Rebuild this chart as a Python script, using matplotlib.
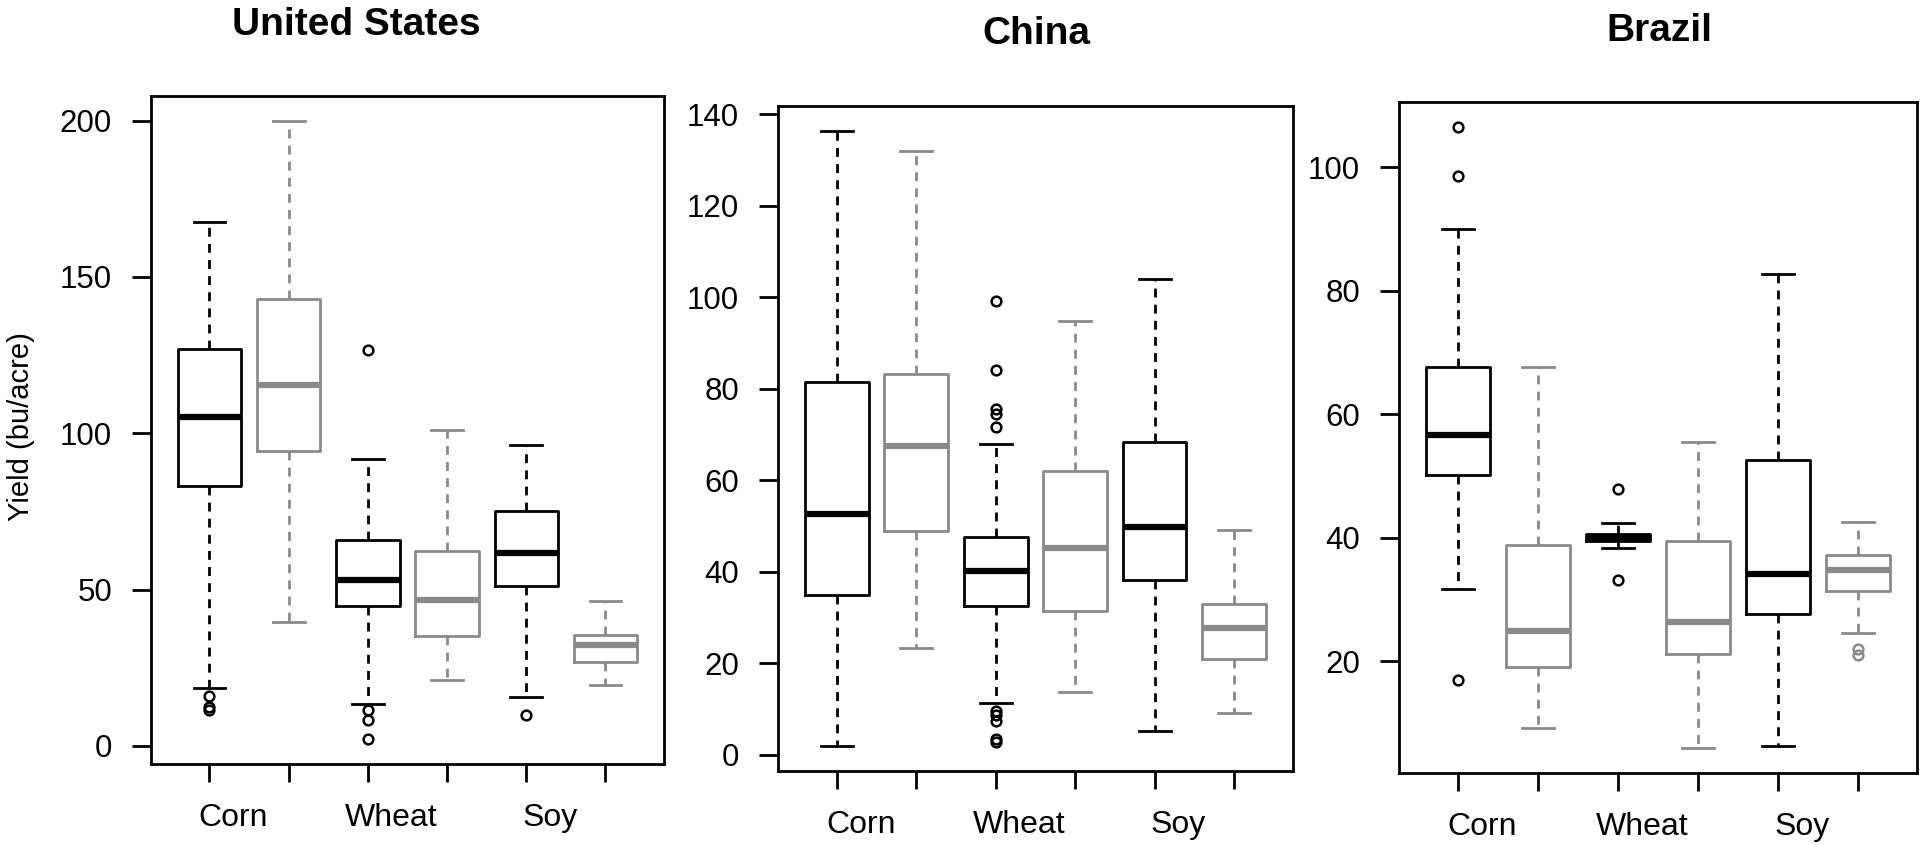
import numpy as np
import matplotlib
matplotlib.use("Agg")
import matplotlib.pyplot as plt

plt.rcParams['font.family'] = ['Liberation Sans', 'DejaVu Sans']

crops = ["Corn", "Wheat", "Soy"]
# box order: corn (black), corn (gray), wheat (black), wheat (gray), soy (black), soy (gray)

# United States
us_low = [18.4, 39.5, 13.3, 21.0, 15.7, 19.5]
us_q1 = [83.1, 94.3, 44.7, 35.2, 51.2, 26.7]
us_med = [105.2, 115.3, 52.9, 46.6, 61.6, 32.2]
us_q3 = [126.9, 143.1, 66.0, 62.4, 75.0, 35.3]
us_high = [167.6, 200.0, 91.7, 101.2, 96.2, 46.2]
us_fliers = [[16.0, 12.4, 11.3], [], [126.7, 11.4, 8.4, 2.1], [], [9.8], []]

# China
cn_low = [1.8, 23.3, 11.2, 13.6, 5.1, 9.0]
cn_q1 = [34.8, 48.9, 32.4, 31.4, 38.1, 21.0]
cn_med = [52.6, 67.4, 40.1, 45.2, 49.7, 27.6]
cn_q3 = [81.4, 83.3, 47.6, 62.0, 68.3, 33.0]
cn_high = [136.4, 132.0, 67.9, 94.8, 104.0, 49.2]
cn_fliers = [[], [], [99.2, 84.1, 75.6, 74.4, 71.7, 9.5, 8.6, 7.4, 3.4, 2.7],
             [], [], []]

# Brazil
br_low = [31.7, 9.2, 38.3, 5.9, 6.2, 24.5]
br_q1 = [50.1, 19.0, 39.4, 21.1, 27.6, 31.3]
br_med = [56.6, 24.9, 40.0, 26.4, 34.1, 34.8]
br_q3 = [67.6, 38.8, 40.5, 39.5, 52.5, 37.1]
br_high = [89.9, 67.6, 42.3, 55.4, 82.7, 42.5]
br_fliers = [[106.5, 98.5, 16.9], [], [47.9, 33.1], [], [], [22.0, 21.0]]

us_ticks = [0, 50, 100, 150, 200]
cn_ticks = [0, 20, 40, 60, 80, 100, 120, 140]
br_ticks = [20, 40, 60, 80, 100]

GRAY = '#8a8a8a'
colors = ['black', GRAY] * 3

panels = [
    ("United States", [0.0786, 0.0948, 0.2672, 0.7915], (356, 25),
     us_low, us_q1, us_med, us_q3, us_high, us_fliers, us_ticks),
    ("China", [0.4052, 0.0865, 0.2682, 0.7879], (1036, 34),
     cn_low, cn_q1, cn_med, cn_q3, cn_high, cn_fliers, cn_ticks),
    ("Brazil", [0.7286, 0.0841, 0.2698, 0.7950], (1659, 31),
     br_low, br_q1, br_med, br_q3, br_high, br_fliers, br_ticks),
]

fig = plt.figure(figsize=(19.2, 8.44), dpi=100)

for title, rect, tpos, lo, q1, med, q3, hi, fl, yticks in panels:
    ax = fig.add_axes(rect)
    stats = []
    for i in range(6):
        stats.append(dict(whislo=lo[i], q1=q1[i], med=med[i], q3=q3[i],
                          whishi=hi[i], fliers=fl[i]))
    pos = np.arange(1, 7)
    art = ax.bxp(stats, positions=pos, widths=0.8, capwidths=0.4,
                 boxprops=dict(linewidth=2.0),
                 whiskerprops=dict(linewidth=2.0, linestyle=(0, (3.2, 2.6))),
                 capprops=dict(linewidth=2.0),
                 medianprops=dict(linewidth=4.5, solid_capstyle='butt'),
                 flierprops=dict(marker='o', markersize=7, markerfacecolor='none',
                                 markeredgewidth=1.8))
    for i, c in enumerate(colors):
        art['boxes'][i].set_color(c)
        art['medians'][i].set_color(c)
        art['fliers'][i].set_markeredgecolor(c)
        for k in (2 * i, 2 * i + 1):
            art['whiskers'][k].set_color(c)
            art['caps'][k].set_color(c)

    # R-style axis limits: 4% padding around the data range
    allv = lo + hi + [v for f in fl for v in f]
    vmin, vmax = min(allv), max(allv)
    pad = 0.04 * (vmax - vmin)
    ax.set_ylim(vmin - pad, vmax + pad)
    ax.set_xlim(0.5 - 0.24, 6.5 + 0.24)

    ax.set_yticks(yticks)
    ax.set_yticklabels([str(t) for t in yticks])
    ax.set_xticks(pos)
    ax.set_xticklabels([''] * 6)
    ax.set_xticks([1.3, 3.3, 5.3], crops, minor=True)
    ax.tick_params(axis='x', which='major', direction='out', length=13, width=2)
    ax.tick_params(axis='x', which='minor', length=0, pad=28, labelsize=23)
    ax.tick_params(axis='y', direction='out', length=14, width=2, pad=14,
                   labelsize=22.5)
    for s in ax.spines.values():
        s.set_linewidth(2)

    fig.text(tpos[0] / 1920, 1 - tpos[1] / 844, title, ha='center', va='center',
             fontsize=28, fontweight='bold')

fig.text(21 / 1920, 1 - 427 / 844, "Yield (bu/acre)", rotation=90,
         ha='center', va='center', fontsize=21)

fig.savefig("out.png", dpi=100)
